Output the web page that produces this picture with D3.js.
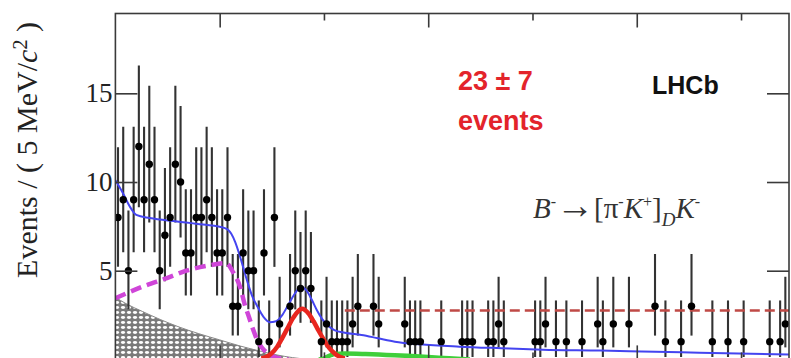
<!DOCTYPE html>
<html>
<head>
<meta charset="utf-8">
<script src="https://cdn.jsdelivr.net/npm/d3@7"></script>
<style>
  html, body { margin: 0; padding: 0; background: #fff; }
  svg { display: block; }
</style>
</head>
<body>
<div id="chart"></div>
<script>
// B- -> [pi- K+]_D K- candidates, 5 MeV/c2 bins starting at 5100
const binLow = 5100;
const binWidth = 5;
const counts = [
  8, 9, 5, 9, 12, 9, 11, 9, 5, 7,
  8, 11, 10, 6, 6, 8, 8, 9, 8, 6,
  6, 8, 3, 3, 6, 5, 5, 1, 6, 1,
  8, 2, 0, 3, 5, 4, 5, 4, 0, 1,
  2, 1, 1, 1, 1, 2, 3, 0, 0, 3,
  2, 0, 0, 0, 0, 2, 1, 1, 1, 0,
  0, 0, 1, 0, 0, 0, 1, 1, 1, 0,
  0, 1, 1, 2, 1, 0, 0, 0, 0, 0,
  1, 1, 2, 0, 1, 0, 1, 0, 0, 1,
  0, 0, 2, 1, 0, 2, 0, 0, 2, 0,
  0, 0, 0, 3, 0, 1, 0, 0, 1, 0,
  3, 0, 0, 0, 1, 0, 0, 1, 0, 0,
  1, 0, 0, 0, 0, 1, 0, 1, 2
];

// total fit (blue)
const totalMass = [5100, 5107, 5114, 5120, 5133, 5159, 5184, 5205, 5211, 5215, 5219, 5223, 5227, 5231, 5236, 5242, 5248, 5254, 5260, 5266, 5272, 5278, 5283, 5288, 5293, 5298, 5304, 5310, 5320, 5336, 5352, 5368, 5392, 5430, 5470, 5510, 5565, 5605, 5660, 5746];
const totalVal  = [10.1, 9.4, 8.6, 8.15, 7.97, 7.78, 7.6, 7.4, 7.1, 6.6, 5.9, 5.1, 4.3, 3.6, 3.0, 2.4, 2.1, 2.15, 2.5, 3.1, 3.7, 4.1, 3.9, 3.4, 2.8, 2.3, 1.9, 1.65, 1.5, 1.38, 1.19, 1.0, 0.85, 0.72, 0.63, 0.55, 0.5, 0.45, 0.38, 0.28];

// partially reconstructed B -> D* K (magenta dashed)
const partMass = [5100, 5126, 5150, 5168, 5190, 5206, 5213, 5220, 5224, 5228, 5232, 5236, 5240, 5245, 5251, 5258, 5266];
const partVal  = [3.45, 4.1, 4.6, 5.0, 5.3, 5.43, 4.9, 4.0, 3.1, 2.4, 1.7, 1.1, 0.7, 0.4, 0.18, 0.05, 0];

// partially reconstructed background (grey hatched)
const hatchMass = [5100, 5110, 5126, 5143, 5160, 5180, 5200, 5220, 5240, 5255, 5270, 5285];
const hatchVal  = [3.5, 3.15, 2.7, 2.25, 1.85, 1.45, 1.1, 0.75, 0.45, 0.25, 0.1, 0];

// signal (red)
const sigMass = [5240, 5245, 5250, 5255, 5260, 5265, 5270, 5275, 5279, 5285, 5290, 5295, 5300, 5305, 5310, 5315, 5320];
const sigVal  = [0.05, 0.15, 0.35, 0.7, 1.2, 1.75, 2.3, 2.7, 2.85, 2.6, 2.15, 1.6, 1.1, 0.65, 0.35, 0.15, 0.05];

// B -> D pi misidentified (green)
const misMass = [5295, 5300, 5305, 5310, 5320, 5340, 5360, 5380, 5400, 5420, 5440];
const misVal  = [0.0, 0.05, 0.2, 0.3, 0.33, 0.3, 0.25, 0.2, 0.14, 0.06, 0.0];

// dashed red level
const levelMass = [5320, 5746];
const levelVal  = [2.75, 2.75];

const yTicks = [5, 10, 15];
const xMajor = [5200, 5400, 5600];
const xMinor = [5300, 5500, 5700];

const W = 791, H = 358;
const fL = 115.4, fR = 789, fT = 13.5, fB = 359.4;

const x = d3.scaleLinear().domain([5100, 5746]).range([fL, fR]);
const y = d3.scaleLinear().domain([0, 19.5]).range([fB, fT]);

const svg = d3.select("#chart").append("svg")
  .attr("width", W).attr("height", H);

const defs = svg.append("defs");
defs.append("clipPath").attr("id", "frame")
  .append("rect").attr("x", fL).attr("y", fT)
  .attr("width", fR - fL).attr("height", fB - fT);

const pat = defs.append("pattern").attr("id", "hatch")
  .attr("patternUnits", "userSpaceOnUse")
  .attr("width", 6).attr("height", 5);
pat.append("rect").attr("width", 6).attr("height", 5).attr("fill", "#7a7a7a");
pat.append("ellipse").attr("cx", 3).attr("cy", 2.5).attr("rx", 2.1).attr("ry", 1.4).attr("fill", "#fff");

const plot = svg.append("g").attr("clip-path", "url(#frame)");

// hatched background
plot.append("path")
  .datum(hatchMass.map((m, i) => [m, hatchVal[i]]))
  .attr("fill", "url(#hatch)")
  .attr("stroke", "#888")
  .attr("stroke-width", 1)
  .attr("d", d3.area().x(d => x(d[0])).y0(y(0)).y1(d => y(d[1])).curve(d3.curveMonotoneX));

// Poisson (Garwood-like) intervals
function interval(n) {
  const lo = n > 0 ? n - Math.sqrt(n - 0.25) : 0;
  const hi = n + 1 + Math.sqrt(n + 0.75);
  return [lo, hi];
}

const bins = counts.map((n, i) => ({
  c: binLow + binWidth * (i + 0.5),
  n: n,
  e: interval(n)
})).filter(d => d.n > 0);

const bars = plot.append("g").attr("stroke", "#333").attr("stroke-width", 2.1);
bars.selectAll("line.v").data(bins).join("line").attr("class", "v")
  .attr("x1", d => x(d.c)).attr("x2", d => x(d.c))
  .attr("y1", d => y(d.e[0])).attr("y2", d => y(d.e[1]));
bars.selectAll("line.h").data(bins).join("line").attr("class", "h")
  .attr("x1", d => x(d.c - binWidth / 2)).attr("x2", d => x(d.c + binWidth / 2))
  .attr("y1", d => y(d.n)).attr("y2", d => y(d.n));

function curve(mass, val) {
  return d3.line().x(d => x(d[0])).y(d => y(d[1])).curve(d3.curveMonotoneX)(mass.map((m, i) => [m, val[i]]));
}

plot.append("path").attr("d", curve(partMass, partVal))
  .attr("fill", "none").attr("stroke", "#cf45d8").attr("stroke-width", 4.5)
  .attr("stroke-dasharray", "11,6");

plot.append("path").attr("d", curve(misMass, misVal))
  .attr("fill", "none").attr("stroke", "#3fcf3a").attr("stroke-width", 4.5);

plot.append("path").attr("d", curve(sigMass, sigVal))
  .attr("fill", "none").attr("stroke", "#e8261f").attr("stroke-width", 4.5);

plot.append("path").attr("d", curve(levelMass, levelVal))
  .attr("fill", "none").attr("stroke", "#c04a46").attr("stroke-width", 2.5)
  .attr("stroke-dasharray", "10,5");

plot.append("path").attr("d", curve(totalMass, totalVal))
  .attr("fill", "none").attr("stroke", "#4444f0").attr("stroke-width", 2);

// markers
plot.append("g").selectAll("circle").data(bins).join("circle")
  .attr("cx", d => x(d.c)).attr("cy", d => y(d.n)).attr("r", 3.7)
  .attr("fill", "#000");

// frame and axes
svg.append("rect").attr("x", fL).attr("y", fT)
  .attr("width", fR - fL).attr("height", fB - fT)
  .attr("fill", "none").attr("stroke", "#3a3a3a").attr("stroke-width", 1.6);

function styleAxis(g) {
  g.select(".domain").remove();
  g.selectAll(".tick line").attr("stroke", "#3a3a3a").attr("stroke-width", 1.6);
}

const serif = "'Liberation Serif', 'Times New Roman', serif";
const sans = "'Liberation Sans', Arial, sans-serif";

svg.append("g").attr("transform", `translate(${fL},0)`)
  .call(d3.axisLeft(y).tickValues(yTicks).tickSize(-22).tickPadding(3))
  .call(styleAxis)
  .call(g => g.selectAll("text")
    .attr("font-family", serif)
    .attr("font-size", 27).attr("fill", "#222"));

svg.append("g").attr("transform", `translate(${fR},0)`)
  .call(d3.axisRight(y).tickValues(yTicks).tickSize(-22).tickFormat(""))
  .call(styleAxis);

svg.append("g").attr("transform", `translate(0,${fT})`)
  .call(d3.axisTop(x).tickValues(xMajor).tickSize(-14).tickFormat(""))
  .call(styleAxis);
svg.append("g").attr("transform", `translate(0,${fT})`)
  .call(d3.axisTop(x).tickValues(xMinor).tickSize(-7).tickFormat(""))
  .call(styleAxis);
svg.append("g").attr("transform", `translate(0,${fB})`)
  .call(d3.axisBottom(x).tickValues(xMajor).tickSize(-14).tickFormat(""))
  .call(styleAxis);
svg.append("g").attr("transform", `translate(0,${fB})`)
  .call(d3.axisBottom(x).tickValues(xMinor).tickSize(-7).tickFormat(""))
  .call(styleAxis);

// y title
const yt = svg.append("text")
  .attr("transform", "translate(37,150) rotate(-90)")
  .attr("text-anchor", "middle")
  .attr("font-family", serif).attr("font-size", 30).attr("fill", "#222");
yt.append("tspan").text("Events / ( 5 MeV/");
yt.append("tspan").attr("font-style", "italic").text("c");
yt.append("tspan").attr("font-size", 20).attr("dy", -10).text("2");
yt.append("tspan").attr("dy", 10).text(" )");

// annotations
svg.append("text").attr("x", 458).attr("y", 90)
  .attr("font-family", sans).attr("font-weight", "bold").attr("font-size", 27)
  .attr("fill", "#e3242b").text("23 ± 7");
svg.append("text").attr("x", 458).attr("y", 130)
  .attr("font-family", sans).attr("font-weight", "bold").attr("font-size", 27)
  .attr("fill", "#e3242b").text("events");
svg.append("text").attr("x", 652).attr("y", 94)
  .attr("font-family", sans).attr("font-weight", "bold").attr("font-size", 25)
  .attr("fill", "#111").text("LHCb");

const dec = svg.append("text").attr("x", 533).attr("y", 218)
  .attr("font-family", serif).attr("font-size", 29).attr("fill", "#333");
dec.append("tspan").attr("font-style", "italic").text("B");
dec.append("tspan").attr("font-size", 16).attr("dy", -11).text("-");
dec.append("tspan").attr("dy", 11).attr("font-size", 38).text("→");
dec.append("tspan").text("[π");
dec.append("tspan").attr("font-size", 16).attr("dy", -11).text("-");
dec.append("tspan").attr("font-style", "italic").attr("dy", 11).text("K");
dec.append("tspan").attr("font-size", 16).attr("dy", -11).text("+");
dec.append("tspan").attr("dy", 11).text("]");
dec.append("tspan").attr("font-style", "italic").attr("font-size", 19).attr("dy", 8).text("D");
dec.append("tspan").attr("font-style", "italic").attr("dy", -8).text("K");
dec.append("tspan").attr("font-size", 16).attr("dy", -11).text("-");
</script>
</body>
</html>
